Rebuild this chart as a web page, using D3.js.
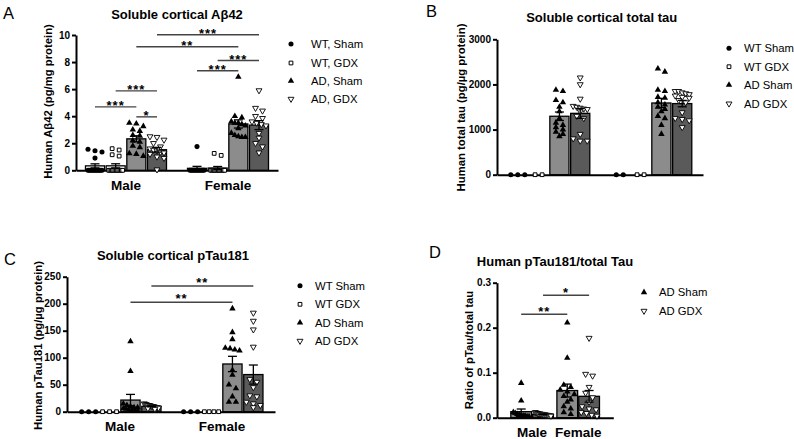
<!DOCTYPE html>
<html>
<head>
<meta charset="utf-8">
<script src="https://cdn.jsdelivr.net/npm/d3@7"></script>
<style>
body { margin: 0; background: #fff; }
svg text { font-family: "Liberation Sans", Arial, sans-serif; }
</style>
</head>
<body>
<script>
var width = 794;
var height = 439;

var sexes = ['Male', 'Female'];
var groupsAll = ['WT Sham', 'WT GDX', 'AD Sham', 'AD GDX'];
var groupsAD = ['AD Sham', 'AD GDX'];

// A - soluble cortical Abeta42 (pg/mg protein)
var abMaleWtSham = [1.55, 1.45, 1.35, 0.9, 0, 0, 0, 0, 0, 0, 0, 0, 0, 0, 0, 0];
var abMaleWtGdx = [1.6, 1.5, 1.15, 1.05, 0, 0, 0, 0, 0, 0, 0, 0, 0, 0, 0, 0];
var abMaleAdSham = [3.5, 3.45, 3.25, 3.0, 2.9, 2.6, 2.55, 2.2, 2.1, 1.8, 1.7, 1.25, 1.2, 1.05];
var abMaleAdGdx = [2.5, 2.45, 2.25, 2.0, 1.75, 1.6, 1.5, 1.45, 1.35, 1.3, 1.2, 1.0, 0.9, 0.05];
var abFemaleWtSham = [1.75, 0, 0, 0, 0, 0, 0, 0, 0, 0, 0, 0];
var abFemaleWtGdx = [1.25, 1.1, 0, 0, 0, 0, 0, 0, 0, 0, 0, 0, 0, 0];
var abFemaleAdSham = [6.9, 4.0, 3.9, 3.6, 3.5, 3.5, 3.4, 3.3, 3.1, 2.75, 2.6, 2.5, 2.45, 2.45];
var abFemaleAdGdx = [5.9, 4.6, 4.4, 4.0, 3.85, 3.6, 3.5, 3.4, 3.3, 2.75, 2.4, 2.0, 1.75, 1.3];
var abTicks = [0, 2, 4, 6, 8, 10];
// [sex, group, sex, group, height, stars]
var abSig = [
  ['Male', 'WT Sham', 'Male', 'AD Sham', 4.69, '***'],
  ['Male', 'WT GDX', 'Male', 'AD GDX', 5.87, '***'],
  ['Male', 'AD Sham', 'Male', 'AD GDX', 3.95, '*'],
  ['Female', 'WT Sham', 'Female', 'AD Sham', 7.36, '***'],
  ['Female', 'WT GDX', 'Female', 'AD GDX', 8.12, '***'],
  ['Male', 'AD Sham', 'Female', 'AD Sham', 9.13, '**'],
  ['Male', 'AD GDX', 'Female', 'AD GDX', 10.02, '***']
];

// B - soluble cortical total tau (pg/ug protein)
var ttMaleWtSham = [0, 0, 0];
var ttMaleWtGdx = [0, 0];
var ttMaleAdSham = [1880, 1850, 1650, 1600, 1500, 1400, 1250, 1150, 1100, 1050, 1000, 950, 900, 850];
var ttMaleAdGdx = [2150, 2000, 1680, 1520, 1500, 1480, 1460, 1450, 1400, 1300, 1250, 900, 800, 750, 750];
var ttFemaleWtSham = [0, 0];
var ttFemaleWtGdx = [0, 0];
var ttFemaleAdSham = [2350, 2280, 1880, 1850, 1720, 1700, 1600, 1550, 1500, 1450, 1400, 1300, 1250, 1100, 900];
var ttFemaleAdGdx = [1850, 1850, 1820, 1800, 1780, 1750, 1720, 1700, 1650, 1600, 1380, 1250, 1230, 1200, 1050];
var ttTicks = [0, 1000, 2000, 3000];

// C - soluble cortical pTau181 (pg/ug protein)
var ptMaleWtSham = [0, 0, 0];
var ptMaleWtGdx = [0, 0, 0];
var ptMaleAdSham = [130, 75, 15, 12, 10, 8, 8, 6, 5, 4, 3, 2, 2];
var ptMaleAdGdx = [15, 14, 13, 12, 12, 11, 10, 10, 9, 8, 8, 7, 6, 5];
var ptFemaleWtSham = [0, 0, 0];
var ptFemaleWtGdx = [0, 0, 0, 0];
var ptFemaleAdSham = [191, 147, 134, 118, 117, 115, 113, 77, 68, 50, 43, 28, 18, 18];
var ptFemaleAdGdx = [183, 168, 152, 120, 60, 55, 45, 30, 28, 18, 15, 12, 8];
var ptTicks = [0, 50, 100, 150, 200, 250];
var ptSig = [
  ['Male', 'AD Sham', 'Female', 'AD Sham', 202.6, '**'],
  ['Male', 'AD GDX', 'Female', 'AD GDX', 232.8, '**']
];

// D - ratio pTau181 / total tau
var rMaleAdSham = [0.077, 0.038, 0.012, 0.01, 0.008, 0.006, 0.005, 0.004, 0.004, 0.003, 0.003, 0.002, 0.002];
var rMaleAdGdx = [0.012, 0.011, 0.01, 0.009, 0.009, 0.008, 0.008, 0.007, 0.007, 0.006, 0.006, 0.005, 0.005, 0.004];
var rFemaleAdSham = [0.211, 0.133, 0.073, 0.068, 0.062, 0.058, 0.052, 0.048, 0.04, 0.035, 0.025, 0.02, 0.012, 0.008];
var rFemaleAdGdx = [0.177, 0.097, 0.093, 0.068, 0.055, 0.045, 0.035, 0.025, 0.02, 0.018, 0.012, 0.01, 0.006, 0.004];
var rTicks = [0, 0.1, 0.2, 0.3];
var rSig = [
  ['Male', 'AD Sham', 'Female', 'AD Sham', 0.23, '**'],
  ['Male', 'AD GDX', 'Female', 'AD GDX', 0.272, '*']
];

var legendA = ['WT, Sham', 'WT, GDX', 'AD, Sham', 'AD, GDX'];
var legendBC = ['WT Sham', 'WT GDX', 'AD Sham', 'AD GDX'];
var legendD = ['AD Sham', 'AD GDX'];

var barFill = {'WT Sham': '#fff', 'WT GDX': '#fff', 'AD Sham': '#8c8c8c', 'AD GDX': '#5a5a5a'};

var svg = d3.select('body').append('svg')
  .attr('width', width)
  .attr('height', height);

// marker shape for each group
function marker(sel, grp) {
  if (grp == 'WT Sham') sel.attr('d', d3.symbol(d3.symbolCircle, 20)()).attr('fill', '#000');
  else if (grp == 'WT GDX') sel.attr('d', d3.symbol(d3.symbolSquare, 14)()).attr('fill', '#fff').attr('stroke', '#000').attr('stroke-width', 1);
  else if (grp == 'AD Sham') sel.attr('d', d3.symbol(d3.symbolTriangle, 18)()).attr('fill', '#000');
  else sel.attr('d', d3.symbol(d3.symbolTriangle, 15)()).attr('fill', '#fff').attr('stroke', '#000').attr('stroke-width', 0.9);
}
function place(x, y, grp) {
  return 'translate(' + x + ',' + y + ')' + (grp == 'AD GDX' ? ' rotate(180)' : '');
}

// spread points that sit at about the same height
function swarm(ys, cx, bw) {
  var s = ys.slice().sort(function(a, b) { return a - b; });
  var out = [], i = 0;
  while (i < s.length) {
    var j = i;
    while (j < s.length && s[j] - s[i] < 4.5) j++;
    var k = j - i;
    var sp = k > 1 ? Math.min(7, (bw - 5) / (k - 1)) : 0;
    for (var t = 0; t < k; t++) out.push([cx + (t - (k - 1) / 2) * sp, s[i + t]]);
    i = j;
  }
  return out;
}

function drawPanel(p) {
  var g = svg.append('g');
  var x = d3.scaleBand().domain(sexes).range([p.left, p.right])
    .paddingInner(p.padIn).paddingOuter(p.padOut);
  var xi = d3.scaleBand().domain(p.groups).range([0, x.bandwidth()])
    .paddingInner(p.groups.length > 2 ? 0.08 : 0.05);
  var y = d3.scaleLinear().domain(d3.extent(p.ticks)).range([p.bottom, p.top]);
  var bw = xi.bandwidth();

  var rows = p.series.map(function(s) {
    var m = d3.mean(s.values);
    var sem = s.values.length > 1 ? d3.deviation(s.values) / Math.sqrt(s.values.length) : 0;
    return {sex: s.sex, group: s.group, values: s.values, mean: m, sem: sem,
      cx: x(s.sex) + xi(s.group) + bw / 2};
  });

  // axes
  var ya = g.append('g')
    .attr('transform', 'translate(' + p.left + ',0)')
    .call(d3.axisLeft(y).tickValues(p.ticks).tickFormat(p.fmt).tickSize(4).tickSizeOuter(0).tickPadding(2));
  ya.select('.domain').attr('stroke-width', 2);
  ya.selectAll('.tick line').attr('stroke-width', 2);
  ya.selectAll('text').attr('font-size', 10).attr('font-weight', 'bold').attr('fill', '#000');

  var xa = g.append('g')
    .attr('transform', 'translate(0,' + p.bottom + ')')
    .call(d3.axisBottom(x).tickSize(0).tickSizeOuter(0).tickPadding(10)
      .tickFormat(function(d) { return p.xLabels ? d : ''; }));
  xa.select('.domain').attr('stroke-width', 2);
  xa.selectAll('text').attr('font-size', 13.5).attr('font-weight', 'bold').attr('fill', '#000');

  // bars
  g.selectAll('rect.bar')
    .data(rows.filter(function(d) { return d.mean > 0; }))
    .enter().append('rect')
    .attr('class', 'bar')
    .attr('x', function(d) { return d.cx - bw / 2; })
    .attr('width', bw)
    .attr('y', function(d) { return y(d.mean); })
    .attr('height', function(d) { return y(0) - y(d.mean); })
    .attr('fill', function(d) { return barFill[d.group]; })
    .attr('stroke', '#000')
    .attr('stroke-width', 1.3);

  // individual animals
  rows.forEach(function(r) {
    var pts = swarm(r.values.map(function(v) { return y(v); }), r.cx, bw);
    g.selectAll(null).data(pts).enter().append('path')
      .each(function() { marker(d3.select(this), r.group); })
      .attr('transform', function(d) { return place(d[0], d[1], r.group); });
  });

  // mean +/- SEM
  var eb = g.selectAll('g.err')
    .data(rows.filter(function(d) { return d.sem > 0; }))
    .enter().append('g')
    .attr('stroke', '#000')
    .attr('stroke-width', 1.3);
  eb.append('line')
    .attr('x1', function(d) { return d.cx; }).attr('x2', function(d) { return d.cx; })
    .attr('y1', function(d) { return y(d.mean - d.sem); })
    .attr('y2', function(d) { return y(d.mean + d.sem); });
  [-1, 1].forEach(function(sgn) {
    eb.append('line')
      .attr('x1', function(d) { return d.cx - 4.5; }).attr('x2', function(d) { return d.cx + 4.5; })
      .attr('y1', function(d) { return y(d.mean + sgn * d.sem); })
      .attr('y2', function(d) { return y(d.mean + sgn * d.sem); });
  });

  // significance
  (p.sig || []).forEach(function(s) {
    var xa1 = x(s[0]) + xi(s[1]) + bw / 2;
    var xb1 = x(s[2]) + xi(s[3]) + bw / 2;
    var yy = y(s[4]);
    g.append('line')
      .attr('x1', xa1).attr('x2', xb1).attr('y1', yy).attr('y2', yy)
      .attr('stroke', '#444').attr('stroke-width', 1.4);
    g.append('text')
      .attr('x', (xa1 + xb1) / 2)
      .attr('y', yy - p.starOff + 7.4)
      .attr('text-anchor', 'middle')
      .attr('font-size', 13)
      .attr('font-weight', 'bold')
      .attr('letter-spacing', 1)
      .text(s[5]);
  });

  // titles
  g.append('text')
    .attr('x', p.letter[0]).attr('y', p.letter[1])
    .attr('font-size', 16.5)
    .text(p.name);
  g.append('text')
    .attr('x', p.title[0]).attr('y', p.title[1])
    .attr('text-anchor', 'middle')
    .attr('font-size', 13)
    .attr('font-weight', 'bold')
    .text(p.titleText);
  g.append('text')
    .attr('transform', 'translate(' + p.ylab[0] + ',' + p.ylab[1] + ') rotate(-90)')
    .attr('text-anchor', 'middle')
    .attr('font-size', 11.3)
    .attr('font-weight', 'bold')
    .text(p.ylabText);

  // legend
  var lg = g.selectAll('g.leg')
    .data(p.legend)
    .enter().append('g');
  lg.append('path')
    .each(function(d, i) { marker(d3.select(this), p.groups[i]); })
    .attr('transform', function(d, i) { return place(p.legX[0], p.legY[i], p.groups[i]); });
  lg.append('text')
    .attr('x', p.legX[1])
    .attr('y', function(d, i) { return p.legY[i]; })
    .attr('dy', '0.35em')
    .attr('font-size', 11.3)
    .text(function(d) { return d; });
}

function series(groups, lists) {
  var out = [];
  sexes.forEach(function(sex, si) {
    groups.forEach(function(grp, gi) {
      out.push({sex: sex, group: grp, values: lists[si][gi]});
    });
  });
  return out;
}

drawPanel({
  name: 'A', letter: [3, 18.5],
  titleText: 'Soluble cortical A\u03b242', title: [177, 18.5],
  ylabText: 'Human A\u03b242 (pg/mg protein)', ylab: [51.5, 101.5],
  left: 76, right: 278, padIn: 0.206, padOut: 0.093,
  bottom: 170.3, top: 35, ticks: abTicks, fmt: d3.format('d'),
  groups: groupsAll, xLabels: true,
  series: series(groupsAll, [
    [abMaleWtSham, abMaleWtGdx, abMaleAdSham, abMaleAdGdx],
    [abFemaleWtSham, abFemaleWtGdx, abFemaleAdSham, abFemaleAdGdx]]),
  sig: abSig, starOff: 4,
  legend: legendA, legX: [291, 311], legY: [44, 63, 81, 99]
});

drawPanel({
  name: 'B', letter: [426, 16.7],
  titleText: 'Soluble cortical total tau', title: [601.7, 21.5],
  ylabText: 'Human total tau (pg/\u00b5g protein)', ylab: [465, 107.5],
  left: 497, right: 703, padIn: 0.2, padOut: 0.11,
  bottom: 174.7, top: 39.3, ticks: ttTicks, fmt: d3.format('d'),
  groups: groupsAll, xLabels: false,
  series: series(groupsAll, [
    [ttMaleWtSham, ttMaleWtGdx, ttMaleAdSham, ttMaleAdGdx],
    [ttFemaleWtSham, ttFemaleWtGdx, ttFemaleAdSham, ttFemaleAdGdx]]),
  legend: legendBC, legX: [729, 744], legY: [48.3, 66.7, 85, 103.7]
});

drawPanel({
  name: 'C', letter: [4, 264.5],
  titleText: 'Soluble cortical pTau181', title: [173, 259.5],
  ylabText: 'Human pTau181 (pg/\u00b5g protein)', ylab: [42, 345.5],
  left: 67, right: 275, padIn: 0.196, padOut: 0.118,
  bottom: 411.7, top: 276.7, ticks: ptTicks, fmt: d3.format('d'),
  groups: groupsAll, xLabels: true,
  series: series(groupsAll, [
    [ptMaleWtSham, ptMaleWtGdx, ptMaleAdSham, ptMaleAdGdx],
    [ptFemaleWtSham, ptFemaleWtGdx, ptFemaleAdSham, ptFemaleAdGdx]]),
  sig: ptSig, starOff: 6.5,
  legend: legendBC, legX: [300, 315], legY: [285.7, 304.3, 322.7, 341]
});

drawPanel({
  name: 'D', letter: [429, 258.3],
  titleText: 'Human pTau181/total Tau', title: [555, 265.5],
  ylabText: 'Ratio of pTau/total tau', ylab: [473, 350],
  left: 497, right: 613.3, padIn: 0.076, padOut: 0.3,
  bottom: 417.7, top: 282.7, ticks: rTicks, fmt: d3.format('.1f'),
  groups: groupsAD, xLabels: true,
  series: series(groupsAD, [
    [rMaleAdSham, rMaleAdGdx],
    [rFemaleAdSham, rFemaleAdGdx]]),
  sig: rSig, starOff: 5.8,
  legend: legendD, legX: [644, 659], legY: [292.3, 311]
});
</script>
</body>
</html>
